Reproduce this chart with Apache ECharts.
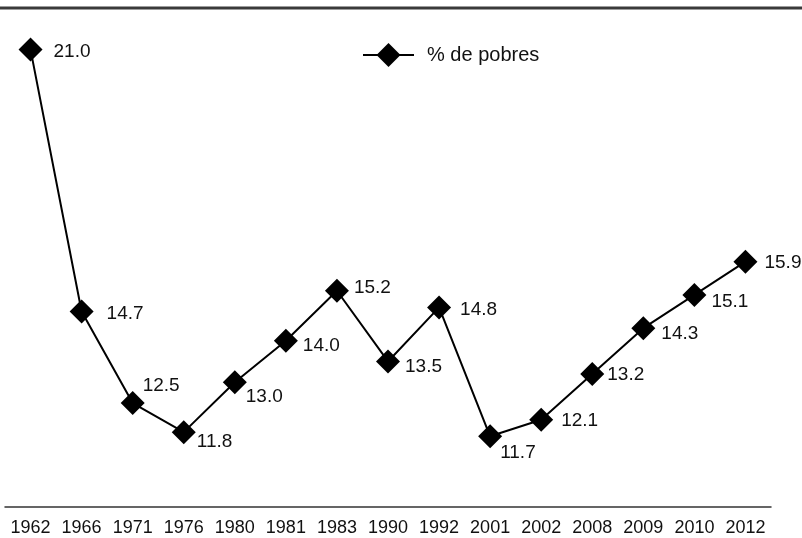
<!DOCTYPE html>
<html>
<head>
    <meta charset="utf-8">
    <title>% de pobres</title>
    <style>
    html, body { margin: 0; padding: 0; background: #fff; }
    </style>
    <script type="text/javascript" src="https://cdn.jsdelivr.net/npm/echarts@6/dist/echarts.min.js"></script>
</head>
<body>
    <div id="main" style="width:802px;height:538px"></div>
    <script>
    // datos
    var years = ['1962', '1966', '1971', '1976', '1980', '1981', '1983', '1990', '1992', '2001', '2002', '2008', '2009', '2010', '2012'];
    var pobres = [21.0, 14.7, 12.5, 11.8, 13.0, 14.0, 15.2, 13.5, 14.8, 11.7, 12.1, 13.2, 14.3, 15.1, 15.9];

    // desplazamiento de cada etiqueta [dx, dy] respecto del rombo
    var labelShift = [[11, 2], [13, 2], [-2, -17], [1, 10], [-1, 15], [5, 5], [5, -3], [5, 5], [9, 2], [-2, 16], [8, 1], [3, 1], [6, 6], [5, 7], [7, 1]];

    var font = '"Liberation Sans", Arial, sans-serif';

    var seriesData = pobres.map(function (v, i) {
        return {
            value: v,
            label: { offset: labelShift[i] }
        };
    });

    var option = {
        animation: false,
        textStyle: { fontFamily: font },
        graphic: [{
            type: 'line',
            shape: { x1: 0, y1: 8, x2: 802, y2: 8 },
            style: { stroke: '#3a3a3a', lineWidth: 3 }
        }],
        legend: {
            left: 357,
            top: 38,
            itemWidth: 51,
            itemHeight: 30,
            textStyle: { fontFamily: font, fontSize: 20, color: '#111', padding: [0, 0, 0, 8] },
            data: ['% de pobres']
        },
        grid: { left: 5, right: 31, top: 8, bottom: 31, containLabel: false },
        xAxis: {
            type: 'category',
            data: years,
            boundaryGap: true,
            axisLine: { lineStyle: { color: '#333', width: 1.5 } },
            axisTick: { show: false },
            axisLabel: { fontFamily: font, fontSize: 18, color: '#111', margin: 12, interval: 0 },
            splitLine: { show: false }
        },
        yAxis: {
            type: 'value',
            min: 10,
            max: 22,
            show: false
        },
        series: [{
            name: '% de pobres',
            type: 'line',
            data: seriesData,
            symbol: 'diamond',
            symbolSize: 24,
            itemStyle: { color: '#000' },
            lineStyle: { color: '#000', width: 2 },
            label: {
                show: true,
                position: 'right',
                distance: 0,
                fontFamily: font,
                fontSize: 19,
                color: '#111',
                formatter: function (p) { return p.value.toFixed(1); }
            }
        }]
    };

    var myChart = echarts.init(document.getElementById('main'));
    myChart.setOption(option);
    </script>
</body>
</html>
